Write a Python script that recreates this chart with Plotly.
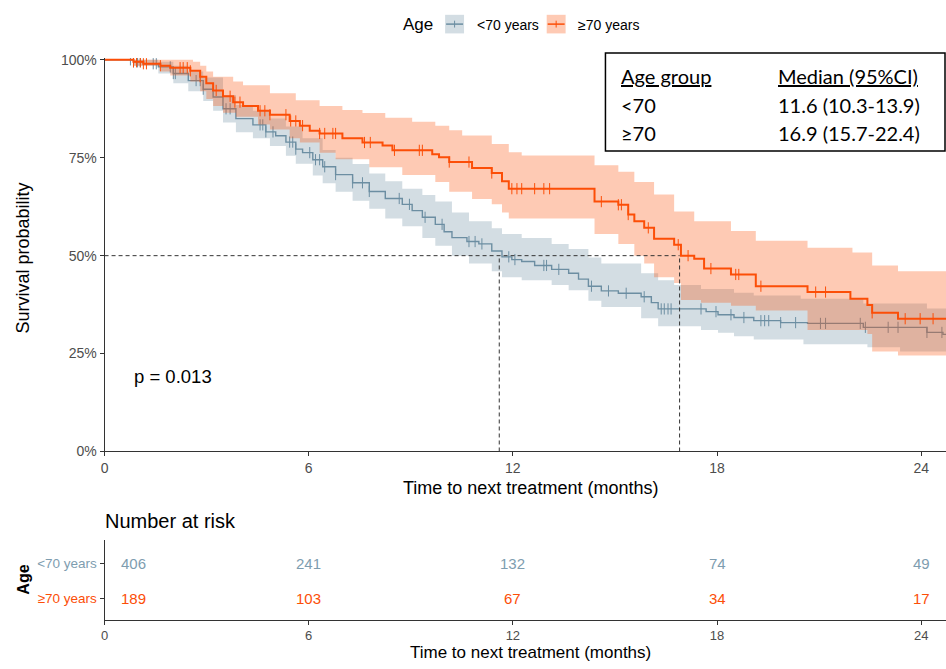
import numpy as np
import plotly.graph_objects as go

W, H = 946, 669
X_MAX = 24.73

# ---------------- data ----------------
group_labels = ["<70 years", "≥70 years"]
table_groups = ["<70", "≥70"]
medians = [11.6, 16.9]
median_ci_low = [10.3, 15.7]
median_ci_high = [13.9, 22.4]
p_value = "0.013"

# Kaplan-Meier estimate, <70 years
lt70_t = [0, 0.85, 1.14, 1.58, 2.02, 2.46, 2.90, 3.19, 3.48, 3.86, 4.36, 4.74, 5.03, 5.33,
          5.62, 5.82, 6.12, 6.41, 6.79, 7.29, 7.78, 8.25, 8.75, 9.04, 9.34, 9.72, 9.98, 10.21,
          10.65, 11.00, 11.38, 11.68, 11.97, 12.26, 12.64, 13.14, 13.64, 13.93, 14.22, 14.60,
          15.10, 15.77, 16.07, 16.27, 17.68, 18.03, 18.50, 19.08, 19.87, 20.66, 22.30, 24.17, 24.64]
lt70_s = [1.0, 0.995, 0.99, 0.982, 0.965, 0.947, 0.925, 0.905, 0.875, 0.85, 0.834, 0.816, 0.806, 0.79,
          0.772, 0.763, 0.745, 0.727, 0.707, 0.686, 0.664, 0.646, 0.631, 0.615, 0.598, 0.58, 0.561, 0.546,
          0.536, 0.53, 0.512, 0.497, 0.49, 0.485, 0.475, 0.465, 0.455, 0.44, 0.422, 0.41,
          0.404, 0.395, 0.38, 0.364, 0.357, 0.349, 0.342, 0.334, 0.329, 0.327, 0.317, 0.304, 0.299]
lt70_lo_t = [0, 0.85, 1.58, 2.02, 2.46, 2.90, 3.19, 3.48, 3.86, 4.36, 4.86, 5.33, 5.62, 6.12, 6.41,
             6.79, 7.29, 7.78, 8.25, 8.75, 9.34, 9.72, 10.21, 10.71, 11.38, 11.68, 12.26, 13.14, 13.64,
             14.22, 14.60, 15.77, 16.27, 17.53, 18.03, 18.50, 19.08, 20.54, 22.42, 23.38]
lt70_lo_s = [1.0, 0.985, 0.965, 0.94, 0.92, 0.895, 0.87, 0.84, 0.815, 0.80, 0.78, 0.755, 0.735, 0.705, 0.685,
             0.663, 0.64, 0.62, 0.595, 0.575, 0.545, 0.525, 0.50, 0.48, 0.46, 0.445, 0.437, 0.425, 0.412,
             0.385, 0.369, 0.34, 0.32, 0.31, 0.303, 0.294, 0.286, 0.274, 0.266, 0.255]
lt70_hi_t = [0, 1.58, 2.02, 2.46, 2.90, 3.48, 3.86, 4.36, 4.86, 5.33, 5.82, 6.41, 6.79, 7.29, 7.78,
             8.25, 8.75, 9.34, 9.72, 10.21, 10.71, 11.38, 11.68, 12.26, 13.14, 13.64, 14.22, 14.60,
             15.77, 16.27, 16.74, 17.53, 18.50, 19.08, 20.46, 22.30, 24.17]
lt70_hi_s = [1.0, 0.995, 0.985, 0.97, 0.955, 0.91, 0.885, 0.87, 0.85, 0.83, 0.80, 0.77, 0.75, 0.734, 0.71,
             0.69, 0.671, 0.655, 0.638, 0.61, 0.588, 0.57, 0.555, 0.545, 0.53, 0.517, 0.495, 0.48,
             0.455, 0.437, 0.425, 0.415, 0.405, 0.398, 0.39, 0.378, 0.365]
lt70_censor = [0.76, 0.85, 0.97, 1.05, 1.43, 1.52, 1.93, 2.02, 2.08, 2.69, 2.81, 2.90, 3.57, 3.69,
               4.57, 4.65, 4.74, 4.95, 5.44, 5.53, 5.62, 6.03, 6.20, 6.32, 6.47, 6.79, 7.29, 7.58,
               7.78, 8.66, 8.96, 9.42, 9.92, 10.71, 10.89, 11.09, 11.88, 12.06, 12.91, 12.99, 13.35,
               14.31, 14.81, 15.33, 15.86, 16.36, 16.45, 16.56, 16.65, 17.53, 17.97, 18.41, 18.79,
               19.29, 19.40, 19.52, 19.87, 20.31, 21.04, 21.19, 22.21, 22.36, 23.03, 23.32, 24.17, 24.61]

# Kaplan-Meier estimate, >=70 years
ge70_t = [0, 0.85, 1.14, 1.64, 1.93, 2.52, 2.81, 2.99, 3.19, 3.48, 3.78, 4.07, 4.51, 4.86, 5.44,
          5.74, 6.03, 6.32, 6.99, 7.58, 8.17, 8.46, 9.63, 9.83, 10.13, 10.80, 11.38, 11.68, 11.88,
          14.40, 15.10, 15.39, 15.57, 15.86, 16.15, 16.74, 16.94, 17.33, 17.62, 18.41, 19.14,
          20.66, 21.92, 22.42, 22.56, 23.32]
ge70_s = [1.0, 0.995, 0.99, 0.985, 0.98, 0.972, 0.957, 0.94, 0.922, 0.907, 0.892, 0.882, 0.87, 0.86, 0.844,
          0.832, 0.819, 0.812, 0.80, 0.789, 0.781, 0.769, 0.759, 0.751, 0.739, 0.724, 0.711, 0.69, 0.671,
          0.638, 0.63, 0.605, 0.588, 0.571, 0.543, 0.528, 0.50, 0.492, 0.467, 0.452, 0.422,
          0.407, 0.39, 0.374, 0.354, 0.339]
ge70_lo_t = [0, 0.85, 1.64, 1.93, 2.52, 2.81, 2.99, 3.19, 3.48, 3.86, 4.51, 4.86, 5.44, 5.74, 6.32,
             6.79, 7.78, 8.75, 9.72, 10.13, 10.80, 11.38, 11.68, 11.88, 14.40, 15.10, 15.57, 15.86,
             16.15, 16.74, 16.94, 17.53, 18.41, 19.14, 20.66, 22.42, 22.56, 23.32]
ge70_lo_s = [1.0, 0.985, 0.97, 0.96, 0.945, 0.92, 0.90, 0.882, 0.865, 0.855, 0.835, 0.822, 0.80, 0.789, 0.763,
             0.746, 0.726, 0.706, 0.688, 0.663, 0.645, 0.631, 0.61, 0.595, 0.555, 0.53, 0.50, 0.48,
             0.445, 0.43, 0.387, 0.38, 0.372, 0.36, 0.31, 0.30, 0.255, 0.245]
ge70_hi_t = [0, 2.60, 2.81, 2.99, 3.19, 3.78, 4.07, 4.86, 5.62, 6.32, 6.99, 7.58, 8.25, 9.04, 9.72,
             10.13, 10.51, 11.38, 11.88, 12.26, 14.40, 15.10, 15.57, 16.15, 16.74, 17.33, 18.41,
             19.14, 20.66, 21.98, 22.56, 23.32]
ge70_hi_s = [1.0, 0.995, 0.985, 0.97, 0.957, 0.945, 0.935, 0.915, 0.897, 0.882, 0.872, 0.864, 0.852, 0.842, 0.832,
             0.82, 0.807, 0.785, 0.764, 0.756, 0.731, 0.714, 0.688, 0.656, 0.613, 0.588, 0.563,
             0.538, 0.52, 0.508, 0.475, 0.46]
ge70_censor = [0.85, 0.94, 1.05, 1.14, 1.23, 1.64, 2.22, 2.31, 2.43, 2.52, 2.81, 3.28, 3.69, 3.83, 3.98,
               4.57, 4.71, 4.86, 5.33, 5.47, 5.62, 5.82, 6.32, 6.47, 6.71, 6.79, 7.64, 7.81, 8.52, 9.25,
               9.34, 10.13, 10.71, 11.38, 11.97, 12.12, 12.26, 12.64, 12.91, 13.08, 14.60, 15.10, 15.19,
               15.39, 15.98, 16.86, 17.15, 17.82, 18.55, 18.64, 19.29, 20.90, 21.19, 22.56, 23.53,
               23.97, 24.35]

# Number at risk table
risk_times = [0, 6, 12, 18, 24]
risk_lt70 = [406, 241, 132, 74, 49]
risk_ge70 = [189, 103, 67, 34, 17]

x_ticks = [0, 6, 12, 18, 24]
y_ticks = [0, 0.25, 0.5, 0.75, 1.0]
y_ticklabels = ["0%", "25%", "50%", "75%", "100%"]

# ---------------- styles ----------------
BLUE = "#6C8EA2"
BLUE_TXT = "#7E9DB0"
BLUE_FILL = "rgba(108,142,162,0.30)"
ORANGE = "#FC4E07"
ORANGE_FILL = "rgba(252,78,7,0.30)"
AX = "#333333"
TICKC = "#4D4D4D"
FONT = "Liberation Sans, Arial, sans-serif"
NARROW = "Liberation Sans Narrow, Arial Narrow, Liberation Sans, Arial, sans-serif"
TABLE_FONT = "Lato, Open Sans, sans-serif"


def pxx(p):
    return p / W


def pxy(p):
    return 1 - p / H


def step_xy(t, s, t_end):
    xs, ys = [], []
    for i in range(len(t)):
        if i > 0:
            xs.append(t[i]); ys.append(s[i - 1])
        xs.append(t[i]); ys.append(s[i])
    xs.append(t_end); ys.append(s[-1])
    return xs, ys


def surv_at(t, s, times):
    t = np.asarray(t); s = np.asarray(s)
    idx = np.searchsorted(t, np.asarray(times), side="right") - 1
    return s[idx]


fig = go.Figure()

series = [
    (lt70_t, lt70_s, lt70_lo_t, lt70_lo_s, lt70_hi_t, lt70_hi_s, lt70_censor, BLUE, BLUE_FILL, 1.4),
    (ge70_t, ge70_s, ge70_lo_t, ge70_lo_s, ge70_hi_t, ge70_hi_s, ge70_censor, ORANGE, ORANGE_FILL, 2.0),
]
for t, s, lt, ls, ht, hs, cens, col, fillc, lw in series:
    ux, uy = step_xy(ht, hs, X_MAX)
    lx, ly = step_xy(lt, ls, X_MAX)
    fig.add_trace(go.Scatter(x=ux + lx[::-1], y=uy + ly[::-1], fill="toself", fillcolor=fillc,
                             line=dict(width=0), mode="lines", hoverinfo="skip", showlegend=False,
                             xaxis="x", yaxis="y"))
    fig.add_trace(go.Scatter(x=list(t) + [X_MAX], y=list(s) + [s[-1]], mode="lines",
                             line=dict(color=col, width=lw, shape="hv"), showlegend=False,
                             xaxis="x", yaxis="y"))
    fig.add_trace(go.Scatter(x=cens, y=surv_at(t, s, cens), mode="markers",
                             marker=dict(symbol="line-ns", size=8, line=dict(color=col, width=1)),
                             showlegend=False, xaxis="x", yaxis="y"))

# median reference lines
shapes = []
DASH = "4px,3px"
shapes.append(dict(type="line", xref="x", yref="y", x0=0, x1=max(medians), y0=0.5, y1=0.5,
                   line=dict(color=AX, width=1, dash=DASH)))
for m in medians:
    shapes.append(dict(type="line", xref="x", yref="y", x0=m, x1=m, y0=0, y1=0.5,
                       line=dict(color=AX, width=1, dash=DASH)))

# median table box
shapes.append(dict(type="rect", xref="paper", yref="paper", x0=pxx(604), x1=pxx(945),
                   y0=pxy(148), y1=pxy(48), line=dict(color="#000000", width=1.5),
                   fillcolor="white", layer="above"))

# manual legend swatches
for (x0, col, fillc) in [(443, BLUE, BLUE_FILL), (545, ORANGE, ORANGE_FILL)]:
    shapes.append(dict(type="rect", xref="paper", yref="paper", x0=pxx(x0), x1=pxx(x0 + 19),
                       y0=pxy(28), y1=pxy(9), line=dict(width=0), fillcolor=fillc))
    shapes.append(dict(type="line", xref="paper", yref="paper", x0=pxx(x0 + 1), x1=pxx(x0 + 18),
                       y0=pxy(18.5), y1=pxy(18.5), line=dict(color=col, width=1.5)))
    shapes.append(dict(type="line", xref="paper", yref="paper", x0=pxx(x0 + 9.5), x1=pxx(x0 + 9.5),
                       y0=pxy(15), y1=pxy(22), line=dict(color=col, width=1)))

annotations = []


def ann(text, x, y, size, color="#000000", xanchor="center", family=FONT, angle=0, **kw):
    annotations.append(dict(text=text, x=pxx(x), y=pxy(y), xref="paper", yref="paper",
                            xanchor=xanchor, yanchor="middle", showarrow=False, textangle=angle,
                            font=dict(size=size, color=color, family=family), **kw))


# legend text
ann("Age", 399, 19, 17, xanchor="left")
ann(group_labels[0], 473, 19, 14, xanchor="left")
ann(group_labels[1], 574, 19, 14, xanchor="left")

# axis titles
ann("Survival probability", 19, 257, 18, angle=-90)
ann("Time to next treatment (months)", 529, 492, 18)
ann("p = " + p_value, 129, 378, 18.5, xanchor="left")

# table text
TS = 20
ann("<u>Age group</u>", 618, 72, TS, xanchor="left", family=TABLE_FONT)
ann("<u>Median (95%CI)</u>", 775, 72, TS, xanchor="left", family=TABLE_FONT)
for i, g in enumerate(table_groups):
    yrow = 101 + 28.5 * i
    ann(g, 618, yrow, TS, xanchor="left", family=TABLE_FONT)
    ann(f"{medians[i]:.1f} ({median_ci_low[i]:.1f}-{median_ci_high[i]:.1f})", 775, yrow, TS,
        xanchor="left", family=TABLE_FONT)

# risk table
ann("Number at risk", 99, 526, 20, xanchor="left", family=NARROW)
ann("<b>Age</b>", 20, 586, 16, angle=-90)
ann("Time to next treatment (months)", 529, 660, 17, family=NARROW)
for vals, yv, col in [(risk_lt70, 2, BLUE_TXT), (risk_ge70, 1, ORANGE)]:
    for i, (tt, v) in enumerate(zip(risk_times, vals)):
        annotations.append(dict(text=str(v), x=tt, y=yv, xref="x2", yref="y2", showarrow=False,
                                xanchor="center", yanchor="middle", xshift=29 if i == 0 else 0,
                                font=dict(size=15, color=col, family=NARROW)))

axis_common = dict(showgrid=False, zeroline=False, showline=True, linecolor=AX, linewidth=1,
                   ticks="outside", ticklen=4, tickcolor=AX, tickwidth=1,
                   tickfont=dict(size=14, color=TICKC, family=FONT))

y_top_px = 455 - 400 * 1.005
fig.update_layout(
    width=W, height=H,
    margin=dict(l=0, r=0, t=0, b=0),
    plot_bgcolor="white", paper_bgcolor="white",
    showlegend=False,
    font=dict(family=FONT),
    xaxis=dict(domain=[pxx(101), pxx(946)], range=[0, X_MAX], tickvals=x_ticks, anchor="y", **axis_common),
    yaxis=dict(domain=[pxy(455), pxy(y_top_px)], range=[0, 1.005], tickvals=y_ticks,
               ticktext=y_ticklabels, anchor="x", **axis_common),
    xaxis2=dict(domain=[pxx(101), pxx(946)], range=[0, X_MAX], tickvals=x_ticks, anchor="y2",
                **{**axis_common, "tickfont": dict(size=13, color=TICKC, family=NARROW)}),
    yaxis2=dict(domain=[pxy(627), pxy(545)], range=[0.389, 2.667], tickvals=[2, 1],
                ticktext=[f"<span style='color:{BLUE_TXT}'>{group_labels[0]}</span>",
                          f"<span style='color:{ORANGE}'>{group_labels[1]}</span>"],
                anchor="x2", **{**axis_common, "tickfont": dict(size=13.5, color=TICKC, family=NARROW)}),
    shapes=shapes,
    annotations=annotations,
)

fig.write_html("out.html", config={"displayModeBar": False},
               post_script="document.body.style.margin='0';")
